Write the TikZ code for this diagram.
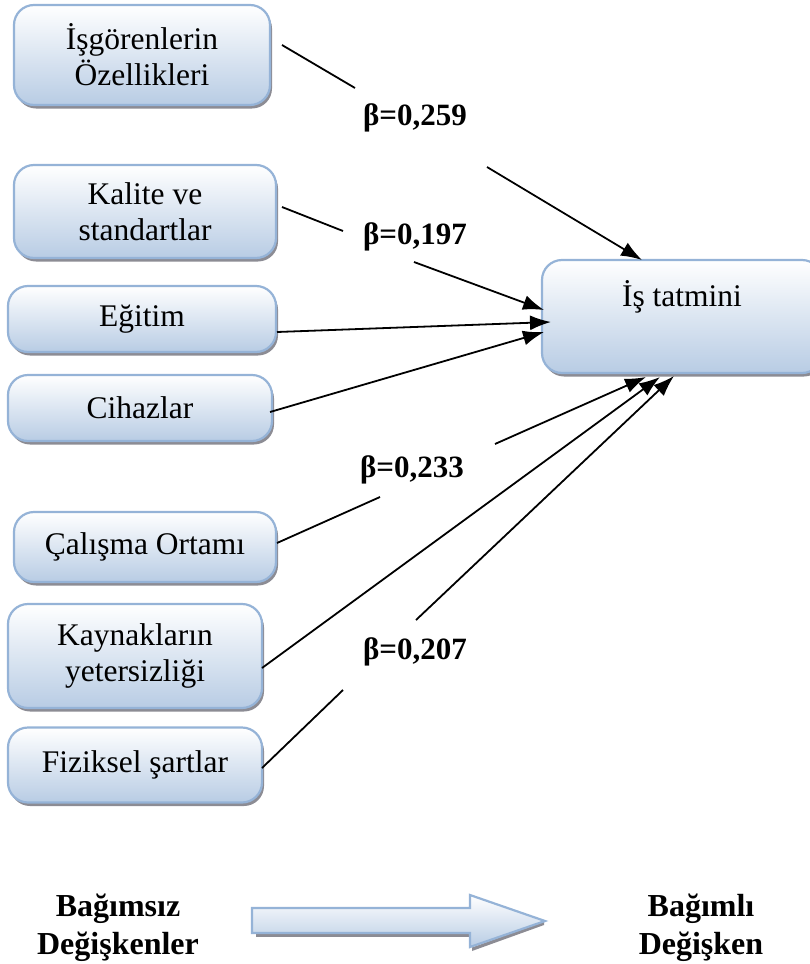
\documentclass[tikz,border=0pt]{standalone}
\usepackage{fontspec}
\setmainfont{Liberation Serif}
\usetikzlibrary{arrows.meta}
\definecolor{bordblue}{RGB}{149,179,215}
\definecolor{fillblue}{RGB}{184,204,228}
\definecolor{shadowgray}{RGB}{140,140,148}
\tikzset{
  box/.style={draw=bordblue, line width=2.2pt, rounded corners=20pt,
    top color=white, bottom color=fillblue, align=center, inner sep=0pt,
    font=\fontsize{31.5}{36}\selectfont,
    preaction={fill=shadowgray, rounded corners=20pt, transform canvas={shift={(2pt,-3.5pt)}}}},
  conn/.style={line width=1.8pt, black},
  arr/.style={conn, -{Latex[length=21pt,width=15pt]}},
  beta/.style={font=\fontsize{31}{36}\selectfont\bfseries, inner sep=0pt},
  caption/.style={font=\fontsize{32}{38}\selectfont\bfseries, align=center, inner sep=0pt}
}
\begin{document}
\begin{tikzpicture}[x=1pt,y=-1pt]
\useasboundingbox (0,0) rectangle (809,964);

% boxes
\node[box, minimum width=256pt, minimum height=100pt] (n1) at (142,55) {İşgörenlerin\\Özellikleri};
\node[box, minimum width=262pt, minimum height=93pt] (n2) at (145,211.5) {Kalite ve\\standartlar};
\node[box, minimum width=268pt, minimum height=66pt] (n3) at (142,319) {Eğitim};
\node[box, minimum width=264pt, minimum height=66pt] (n4) at (140,408) {Cihazlar};
\node[box, minimum width=262pt, minimum height=70pt] (n5) at (145,547) {Çalışma Ortamı};
\node[box, minimum width=254pt, minimum height=104pt] (n6) at (135,656) {Kaynakların\\yetersizliği};
\node[box, minimum width=254pt, minimum height=75pt] (n7) at (135,765) {Fiziksel şartlar};
\node[box, minimum width=280pt, minimum height=113pt] (t) at (682,316.5) {İş tatmini\\\strut};

% beta labels
\node[beta] (b1) at (415,118) {β=0,259};
\node[beta] (b2) at (415,237) {β=0,197};
\node[beta] (b3) at (412,470) {β=0,233};
\node[beta] (b4) at (415,652) {β=0,207};

% connector endpoints
\coordinate (s1) at (282,45);   \coordinate (g1a) at (355,88);  \coordinate (g1b) at (487,167); \coordinate (e1) at (642,260);
\coordinate (s2) at (282,207);  \coordinate (g2a) at (343,231); \coordinate (g2b) at (414,262); \coordinate (e2) at (544,310);
\coordinate (s3) at (277,332);  \coordinate (e3) at (551,322);
\coordinate (s4) at (270,412);  \coordinate (e4) at (544,332);
\coordinate (s5) at (277,543);  \coordinate (g5a) at (380,497); \coordinate (g5b) at (495,444); \coordinate (e5) at (646,377);
\coordinate (s6) at (262,668);  \coordinate (e6) at (660,377);
\coordinate (s7) at (262,768);  \coordinate (g7a) at (343,690); \coordinate (g7b) at (416,620); \coordinate (e7) at (674,376);

% connectors
\draw[conn] (s1) -- (g1a);
\draw[arr] (g1b) -- (e1);
\draw[conn] (s2) -- (g2a);
\draw[arr] (g2b) -- (e2);
\draw[arr] (s3) -- (e3);
\draw[arr] (s4) -- (e4);
\draw[conn] (s5) -- (g5a);
\draw[arr] (g5b) -- (e5);
\draw[arr] (s6) -- (e6);
\draw[conn] (s7) -- (g7a);
\draw[arr] (g7b) -- (e7);

% bottom block arrow
\fill[shadowgray] (256,933) -- (470,933) -- (470,936.5) -- (256,936.5) -- cycle;
\fill[shadowgray] (472,951) -- (544,925) -- (544,921.5) -- (472,947.5) -- cycle;
\draw[draw=bordblue, line width=2.2pt, top color=white, bottom color=fillblue, line join=miter]
  (252,908) -- (470,908) -- (470,895) -- (545,921) -- (470,947) -- (470,933) -- (252,933) -- cycle;

% captions
\node[caption] (c1) at (118,928) {Bağımsız\\Değişkenler};
\node[caption] (c2) at (701,928) {Bağımlı\\Değişken};
\end{tikzpicture}
\end{document}
